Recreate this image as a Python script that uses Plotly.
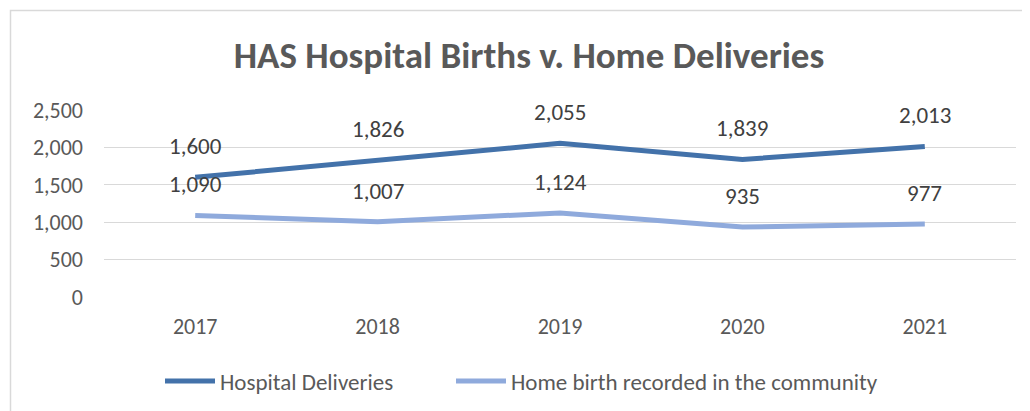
import plotly.graph_objects as go

years = ["2017", "2018", "2019", "2020", "2021"]
hospital = [1600, 1826, 2055, 1839, 2013]
home = [1090, 1007, 1124, 935, 977]
series_names = ["Hospital Deliveries", "Home birth recorded in the community"]
colors = ["#4372AA", "#8FAADC"]
y_ticks = [0, 500, 1000, 1500, 2000, 2500]

FONT = "Carlito, Lato, Liberation Sans, sans-serif"

# page has an 8px body margin; target pixel positions are in viewport coords
OFF = 8

fig = go.Figure()
for name, vals, col, lg in zip(series_names, [hospital, home], colors, ["legend", "legend2"]):
    fig.add_trace(go.Scatter(x=years, y=vals, mode="lines", name=name, legend=lg,
                             line=dict(color=col, width=5)))

annotations = []
for vals in [hospital, home]:
    for i, v in enumerate(vals):
        annotations.append(dict(x=i, y=v, xref="x", yref="y", text=f"{v:,}", showarrow=False,
                                yshift=31, font=dict(family=FONT, size=23, color="#404040")))

W, H = 1030, 411
L = 104 - OFF
T = 110 - OFF
R = W - (1016 - OFF)
B = H - (297 - OFF)
pw = W - L - R
ph = H - T - B

def px_to_paper_x(px):
    return (px - OFF - L) / pw

def px_to_paper_y(py):
    return (H - B - (py - OFF)) / ph

legend_common = dict(orientation="h", xanchor="left", yanchor="middle",
                     y=px_to_paper_y(381), itemwidth=50,
                     font=dict(family=FONT, size=23, color="#595959"))

fig.update_layout(
    width=W, height=H, autosize=False,
    margin=dict(l=L, r=R, t=T, b=B, autoexpand=False),
    paper_bgcolor="white", plot_bgcolor="white",
    title=dict(text="<b>HAS Hospital Births v. Home Deliveries</b>",
               x=(529 - OFF) / W, xanchor="center", y=1 - (55 - OFF) / H, yanchor="middle",
               font=dict(family=FONT, size=37, color="#595959")),
    xaxis=dict(type="category", range=[-0.5, 4.5], showgrid=False, showline=False,
               ticks="", ticklabelstandoff=14,
               tickfont=dict(family=FONT, size=22, color="#595959")),
    yaxis=dict(range=[0, 2500], tickvals=y_ticks, tickformat=",d",
               showgrid=True, gridcolor="#D9D9D9", gridwidth=1,
               zeroline=False, showline=False, ticks="", ticklabelstandoff=20,
               tickfont=dict(family=FONT, size=22, color="#595959")),
    showlegend=True,
    legend=dict(x=px_to_paper_x(160), **legend_common),
    legend2=dict(x=px_to_paper_x(451), **legend_common),
    annotations=annotations,
    shapes=[dict(type="rect", xref="paper", yref="paper",
                 x0=px_to_paper_x(10.5), x1=px_to_paper_x(1045),
                 y0=px_to_paper_y(430), y1=px_to_paper_y(10.5),
                 line=dict(color="#D9D9D9", width=1.5), fillcolor="rgba(0,0,0,0)",
                 layer="below")],
)

fig.write_html("out.html")
